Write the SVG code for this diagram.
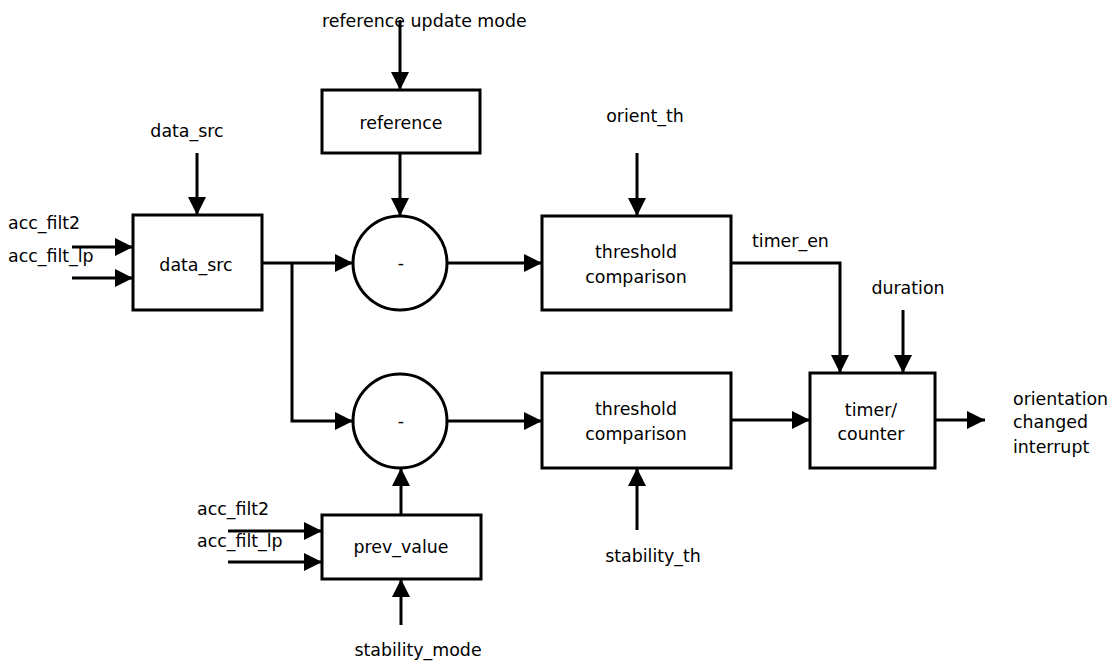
<svg xmlns="http://www.w3.org/2000/svg" width="1111" height="661" viewBox="0 0 1111 661">
<style>
.box{fill:#fff;stroke:#000;stroke-width:3}
.ln{fill:none;stroke:#000;stroke-width:3}
.t{font-family:"DejaVu Sans",sans-serif;font-size:17.4px;fill:#000}
.c{text-anchor:middle}
</style>
<defs>
<marker id="ah" markerUnits="userSpaceOnUse" markerWidth="18" markerHeight="18" refX="18" refY="9" orient="auto">
<path d="M0,0 L18,9 L0,18 z" fill="#000"/>
</marker>
</defs>
<rect width="1111" height="661" fill="#fff"/>
<g id="connectors">
<line class="ln" x1="72" y1="247" x2="133" y2="247" marker-end="url(#ah)"/>
<line class="ln" x1="72" y1="278" x2="133" y2="278" marker-end="url(#ah)"/>
<line class="ln" x1="197" y1="153" x2="197" y2="215" marker-end="url(#ah)"/>
<line class="ln" x1="262" y1="263" x2="353" y2="263" marker-end="url(#ah)"/>
<polyline class="ln" points="292,263 292,421 353,421" marker-end="url(#ah)"/>
<line class="ln" x1="400" y1="20" x2="400" y2="90" marker-end="url(#ah)"/>
<line class="ln" x1="400" y1="153" x2="400" y2="216" marker-end="url(#ah)"/>
<line class="ln" x1="448" y1="263" x2="542" y2="263" marker-end="url(#ah)"/>
<line class="ln" x1="448" y1="421" x2="542" y2="421" marker-end="url(#ah)"/>
<line class="ln" x1="637" y1="153" x2="637" y2="216" marker-end="url(#ah)"/>
<line class="ln" x1="637" y1="530" x2="637" y2="468" marker-end="url(#ah)"/>
<polyline class="ln" points="731,263 840,263 840,373" marker-end="url(#ah)"/>
<line class="ln" x1="903" y1="310" x2="903" y2="373" marker-end="url(#ah)"/>
<line class="ln" x1="731" y1="420" x2="810" y2="420" marker-end="url(#ah)"/>
<line class="ln" x1="935" y1="420" x2="985" y2="420" marker-end="url(#ah)"/>
<line class="ln" x1="228" y1="531" x2="322" y2="531" marker-end="url(#ah)"/>
<line class="ln" x1="228" y1="562" x2="322" y2="562" marker-end="url(#ah)"/>
<line class="ln" x1="401" y1="625" x2="401" y2="579" marker-end="url(#ah)"/>
<line class="ln" x1="401" y1="515" x2="401" y2="468" marker-end="url(#ah)"/>
</g>
<g id="data_src">
<rect class="box" x="133" y="215" width="129" height="95"/>
<text class="t c" x="196" y="271">data_src</text>
</g>
<g id="reference">
<rect class="box" x="322" y="90" width="158" height="63"/>
<text class="t c" x="401" y="129">reference</text>
</g>
<g id="sub1">
<circle class="box" cx="400" cy="263" r="47"/>
<text class="t c" x="401" y="269">-</text>
</g>
<g id="sub2">
<circle class="box" cx="400" cy="421" r="47"/>
<text class="t c" x="401" y="427">-</text>
</g>
<g id="thresh1">
<rect class="box" x="542" y="216" width="189" height="94"/>
<text class="t c" x="636" y="258">threshold</text>
<text class="t c" x="636" y="283">comparison</text>
</g>
<g id="thresh2">
<rect class="box" x="542" y="373" width="189" height="95"/>
<text class="t c" x="636" y="415">threshold</text>
<text class="t c" x="636" y="440">comparison</text>
</g>
<g id="timer">
<rect class="box" x="810" y="373" width="125" height="95"/>
<text class="t c" x="871" y="416">timer/</text>
<text class="t c" x="871" y="440">counter</text>
</g>
<g id="prev_value">
<rect class="box" x="322" y="515" width="159" height="64"/>
<text class="t c" x="401" y="553">prev_value</text>
</g>
<g id="labels">
<text class="t" x="8" y="229">acc_filt2</text>
<text class="t" x="8" y="262">acc_filt_lp</text>
<text class="t c" x="187" y="137">data_src</text>
<text class="t" x="322" y="27">reference update mode</text>
<text class="t c" x="645" y="122">orient_th</text>
<text class="t" x="752" y="247">timer_en</text>
<text class="t c" x="908" y="294">duration</text>
<text class="t" x="1013" y="405">orientation</text>
<text class="t" x="1013" y="428">changed</text>
<text class="t" x="1013" y="453">interrupt</text>
<text class="t" x="197" y="515">acc_filt2</text>
<text class="t" x="197" y="547">acc_filt_lp</text>
<text class="t c" x="653" y="562">stability_th</text>
<text class="t c" x="418" y="656">stability_mode</text>
</g>
</svg>
